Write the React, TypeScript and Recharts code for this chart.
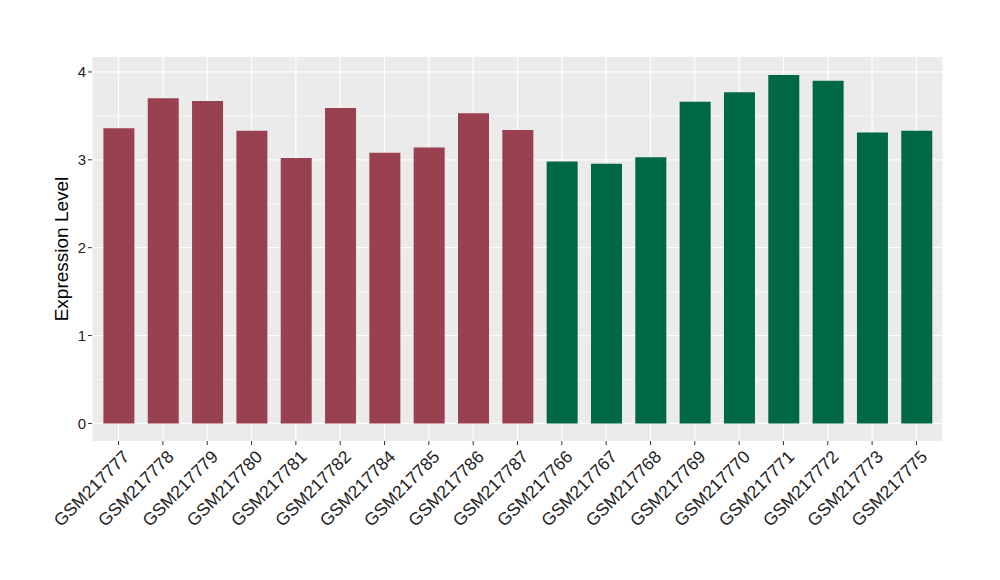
import { BarChart, Bar, XAxis, YAxis, CartesianGrid, Cell } from "recharts";

const samples = [
  "GSM217777", "GSM217778", "GSM217779", "GSM217780", "GSM217781",
  "GSM217782", "GSM217784", "GSM217785", "GSM217786", "GSM217787",
  "GSM217766", "GSM217767", "GSM217768", "GSM217769", "GSM217770",
  "GSM217771", "GSM217772", "GSM217773", "GSM217775",
];

const expression = [
  3.36, 3.70, 3.67, 3.33, 3.02, 3.59, 3.08, 3.14, 3.53, 3.34,
  2.98, 2.955, 3.03, 3.66, 3.77, 3.965, 3.90, 3.31, 3.33,
];

const groups = [
  "a", "a", "a", "a", "a", "a", "a", "a", "a", "a",
  "b", "b", "b", "b", "b", "b", "b", "b", "b",
];

const groupColors: Record<string, string> = { a: "#9A4150", b: "#006846" };

const yTicks = [0, 1, 2, 3, 4];
const yMinor = [0.5, 1.5, 2.5, 3.5];

const data = samples.map((name, i) => ({ name, value: expression[i], group: groups[i] }));

const FONT = "'Liberation Sans', Arial, Helvetica, sans-serif";

const SampleTick = (props: any) => {
  const { x, y, payload } = props;
  const ax = x + 3;
  const ay = y + 2;
  return (
    <text
      x={ax}
      y={ay}
      transform={`rotate(-45, ${ax}, ${ay})`}
      textAnchor="end"
      dy="0.72em"
      fill="#222222"
      fontSize={17.5}
      fontFamily={FONT}
    >
      {payload.value}
    </text>
  );
};

const App = () => {
  return (
    <div style={{ position: "absolute", left: 0, top: 0, width: 1000, height: 580, background: "#fff" }}>
      <BarChart
        width={1000}
        height={580}
        data={data}
        margin={{ top: 57, right: 57, bottom: 39, left: 0 }}
      >
        <CartesianGrid
          horizontalValues={yMinor}
          vertical={false}
          stroke="#FFFFFF"
          strokeWidth={0.6}
          fill="#EBEBEB"
        />
        <CartesianGrid horizontalValues={yTicks} stroke="#FFFFFF" strokeWidth={1.2} />
        <XAxis
          dataKey="name"
          interval={0}
          height={100}
          padding={{ left: 4.4, right: 4.4 }}
          tick={<SampleTick />}
          tickSize={4}
          tickLine={{ stroke: "#333333" }}
          axisLine={false}
        />
        <YAxis
          width={92}
          domain={[-0.2, 4.17]}
          ticks={yTicks}
          allowDataOverflow
          tickSize={4}
          tickMargin={2}
          tickLine={{ stroke: "#333333" }}
          axisLine={false}
          tick={{ fill: "#222222", fontSize: 15, fontFamily: FONT }}
          label={{
            value: "Expression Level",
            angle: -90,
            position: "insideLeft",
            dx: 56,
            style: { fill: "#000000", fontSize: 19, fontFamily: FONT, textAnchor: "middle" },
          }}
        />
        <Bar dataKey="value" isAnimationActive={false} barSize={31}>
          {data.map((d) => (
            <Cell key={d.name} fill={groupColors[d.group]} />
          ))}
        </Bar>
      </BarChart>
    </div>
  );
};

export default App;
